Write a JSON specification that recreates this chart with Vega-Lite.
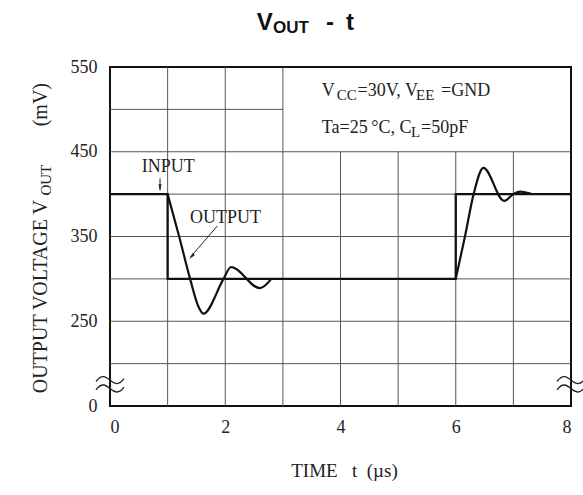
{
  "$schema": "https://vega.github.io/schema/vega-lite/v6.json",
  "width": 461,
  "height": 339,
  "autosize": {"type": "none"},
  "padding": {"left": 110, "top": 67, "right": 12, "bottom": 89},
  "background": "white",
  "config": {
    "view": {"stroke": "#111", "strokeWidth": 2},
    "axis": {"grid": false, "domain": false, "ticks": false, "labelFont": "Liberation Serif", "labelFontSize": 18, "labelColor": "#222"}
  },
  "encoding": {
    "x": {"field": "t", "type": "quantitative", "scale": {"domain": [0, 8], "nice": false, "zero": false},
      "axis": {"values": [0, 2, 4, 6, 8], "labelPadding": 12, "title": "TIME\u00a0\u00a0\u00a0t\u00a0\u00a0(µs)", "titleFont": "Liberation Serif", "titleFontSize": 19, "titleFontWeight": "normal", "titleColor": "#222", "titleX": 234, "titleY": 70.7, "titleAlign": "center", "titleBaseline": "alphabetic"}},
    "y": {"field": "v", "type": "quantitative", "scale": {"domain": [150, 550], "nice": false, "zero": false},
      "axis": {"values": [150, 250, 350, 450, 550], "labelExpr": "datum.value == 150 ? '0' : datum.label", "labelPadding": 13, "title": null}}
  },
  "layer": [
    {
      "data": {"values": [
        {"t": 1, "v": 150, "t2": 1, "v2": 550},
        {"t": 2, "v": 150, "t2": 2, "v2": 550},
        {"t": 3, "v": 150, "t2": 3, "v2": 550},
        {"t": 4, "v": 150, "t2": 4, "v2": 450},
        {"t": 5, "v": 150, "t2": 5, "v2": 450},
        {"t": 6, "v": 150, "t2": 6, "v2": 450},
        {"t": 7, "v": 150, "t2": 7, "v2": 450},
        {"t": 0, "v": 500, "t2": 3, "v2": 500},
        {"t": 0, "v": 450, "t2": 8, "v2": 450},
        {"t": 0, "v": 400, "t2": 8, "v2": 400},
        {"t": 0, "v": 350, "t2": 8, "v2": 350},
        {"t": 0, "v": 300, "t2": 8, "v2": 300},
        {"t": 0, "v": 250, "t2": 8, "v2": 250},
        {"t": 0, "v": 200, "t2": 8, "v2": 200}
      ]},
      "mark": {"type": "rule", "stroke": "#555", "strokeWidth": 1},
      "encoding": {"x2": {"field": "t2"}, "y2": {"field": "v2"}}
    },
    {
      "data": {"values": [
        {"i": 0, "t": 0, "v": 400},
        {"i": 1, "t": 1, "v": 400},
        {"i": 2, "t": 1, "v": 300},
        {"i": 3, "t": 6, "v": 300},
        {"i": 4, "t": 6, "v": 400},
        {"i": 5, "t": 8, "v": 400}
      ]},
      "mark": {"type": "line", "stroke": "#111", "strokeWidth": 2.3, "strokeJoin": "miter"},
      "encoding": {"order": {"field": "i", "type": "quantitative"}}
    },
    {
      "data": {"values": [
        {"seg": "a", "t": 1.0, "v": 400},
        {"seg": "a", "t": 1.2, "v": 350},
        {"seg": "a", "t": 1.39, "v": 300},
        {"seg": "a", "t": 1.53, "v": 268},
        {"seg": "a", "t": 1.62, "v": 259},
        {"seg": "a", "t": 1.97, "v": 300},
        {"seg": "a", "t": 2.1, "v": 314},
        {"seg": "a", "t": 2.6, "v": 289},
        {"seg": "a", "t": 2.8, "v": 300},
        {"seg": "b", "t": 6.0, "v": 300},
        {"seg": "b", "t": 6.16, "v": 350},
        {"seg": "b", "t": 6.31, "v": 400},
        {"seg": "b", "t": 6.48, "v": 431},
        {"seg": "b", "t": 6.84, "v": 392},
        {"seg": "b", "t": 7.0, "v": 400},
        {"seg": "b", "t": 7.12, "v": 403},
        {"seg": "b", "t": 7.32, "v": 400}
      ]},
      "mark": {"type": "line", "stroke": "#111", "strokeWidth": 2.2, "interpolate": "monotone", "strokeJoin": "round"},
      "encoding": {"detail": {"field": "seg", "type": "nominal"}}
    },
    {
      "data": {"values": [
        {"t": 0.868, "v": 418.6, "t2": 0.868, "v2": 405},
        {"t": 1.862, "v": 362.4, "t2": 1.4, "v2": 326}
      ]},
      "mark": {"type": "rule", "stroke": "#222", "strokeWidth": 1},
      "encoding": {"x2": {"field": "t2"}, "y2": {"field": "v2"}}
    },
    {
      "data": {"values": [{"t": 0.868, "v": 403.3}]},
      "mark": {"type": "point", "shape": "M0,0L0.3,1.4L-0.3,1.4Z", "size": 100, "filled": true, "color": "#222", "opacity": 1, "angle": 180}
    },
    {
      "data": {"values": [{"t": 1.376, "v": 323.1}]},
      "mark": {"type": "point", "shape": "M0,0L0.3,1.4L-0.3,1.4Z", "size": 100, "filled": true, "color": "#222", "opacity": 1, "angle": 220}
    },
    {
      "data": {"values": [{"t": 0, "v": 175.6}, {"t": 8, "v": 175.6}]},
      "mark": {"type": "point", "shape": "M-1,-0.2C-0.6,-0.75 -0.3,-0.55 0,-0.3C0.3,-0.05 0.6,0.15 1,-0.4M-1,0.4C-0.6,-0.15 -0.3,0.05 0,0.3C0.3,0.55 0.6,0.75 1,0.2", "size": 784, "filled": false, "stroke": "#222", "strokeWidth": 1.3, "opacity": 1}
    },
    {
      "data": {"values": [
        {"txt": "V", "t": 3.675, "v": 515.4},
        {"txt": "=30V, V", "t": 4.295, "v": 515.4},
        {"txt": "=GND", "t": 5.744, "v": 515.4},
        {"txt": "Ta=25\u2009°C, C", "t": 3.675, "v": 471.8},
        {"txt": "=50pF", "t": 5.397, "v": 471.8}
      ]},
      "mark": {"type": "text", "font": "Liberation Serif", "fontSize": 18, "align": "left", "baseline": "alphabetic", "color": "#222"},
      "encoding": {"text": {"field": "txt"}}
    },
    {
      "data": {"values": [
        {"txt": "CC", "t": 3.934, "v": 511.3},
        {"txt": "EE", "t": 5.31, "v": 511.3},
        {"txt": "L", "t": 5.224, "v": 467.6}
      ]},
      "mark": {"type": "text", "font": "Liberation Serif", "fontSize": 15, "align": "left", "baseline": "alphabetic", "color": "#222"},
      "encoding": {"text": {"field": "txt"}}
    },
    {
      "data": {"values": [
        {"txt": "INPUT", "t": 1.012, "v": 425.7},
        {"txt": "OUTPUT", "t": 2.004, "v": 366.2}
      ]},
      "mark": {"type": "text", "font": "Liberation Serif", "fontSize": 18, "align": "center", "baseline": "alphabetic", "color": "#222"},
      "encoding": {"text": {"field": "txt"}}
    },
    {
      "data": {"values": [
        {"txt": "OUTPUT VOLTAGE V", "t": -1.098, "v": 165.0},
        {"txt": "(mV)", "t": -1.098, "v": 480.0}
      ]},
      "mark": {"type": "text", "font": "Liberation Serif", "fontSize": 20, "angle": 270, "align": "left", "baseline": "alphabetic", "color": "#222"},
      "encoding": {"text": {"field": "txt"}}
    },
    {
      "data": {"values": [{"txt": "OUT", "t": -1.03, "v": 398.3}]},
      "mark": {"type": "text", "font": "Liberation Serif", "fontSize": 15, "angle": 270, "align": "left", "baseline": "alphabetic", "color": "#222"},
      "encoding": {"text": {"field": "txt"}}
    },
    {
      "data": {"values": [
        {"txt": "V", "t": 2.546, "v": 593.3},
        {"txt": "-", "t": 3.748, "v": 593.3},
        {"txt": "t", "t": 4.096, "v": 593.3}
      ]},
      "mark": {"type": "text", "font": "Liberation Sans", "fontWeight": "bold", "fontSize": 24, "align": "left", "baseline": "alphabetic", "color": "#111"},
      "encoding": {"text": {"field": "txt"}}
    },
    {
      "data": {"values": [{"txt": "OUT", "t": 2.829, "v": 589.8}]},
      "mark": {"type": "text", "font": "Liberation Sans", "fontWeight": "bold", "fontSize": 17, "align": "left", "baseline": "alphabetic", "color": "#111"},
      "encoding": {"text": {"field": "txt"}}
    }
  ]
}
